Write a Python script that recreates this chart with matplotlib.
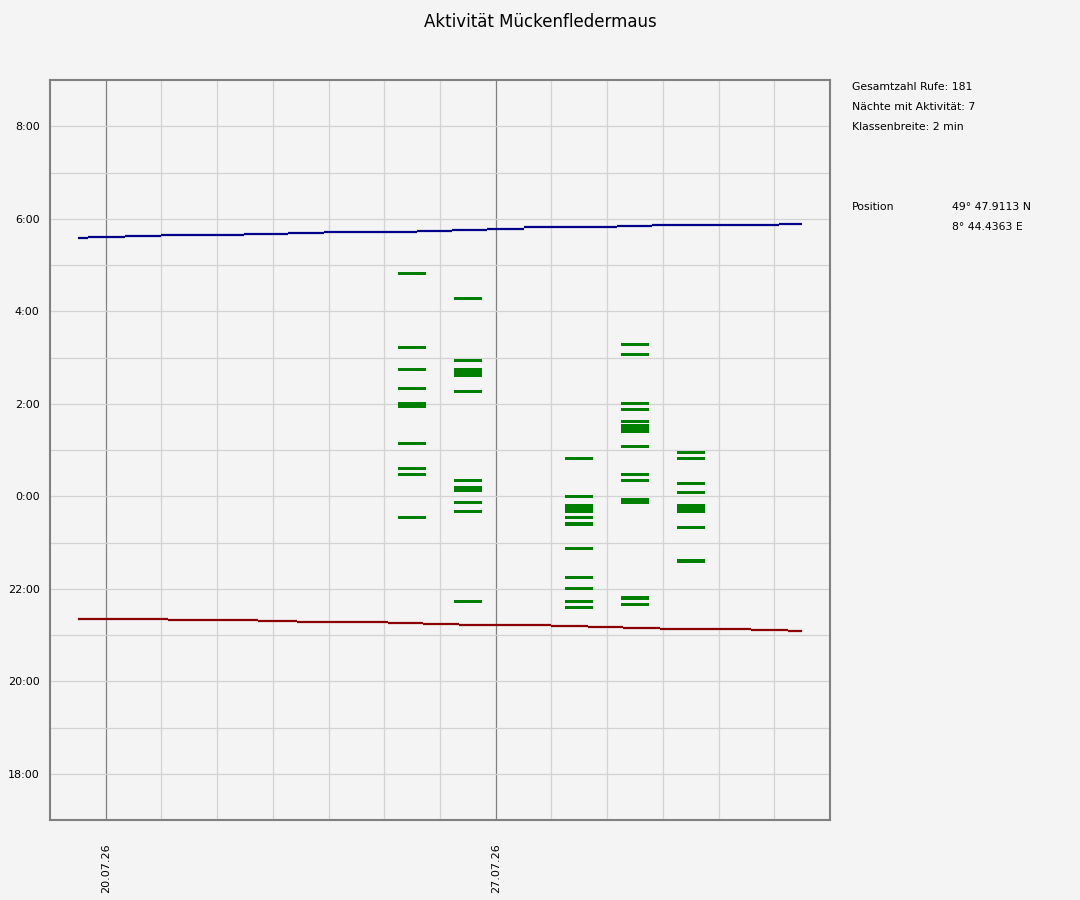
#!/usr/bin/env python3

import datetime
import numpy as np
import matplotlib
matplotlib.use("Agg")
import matplotlib.pyplot as plt


StartDate = datetime.date(2026, 7, 19)
LabelDates = ["20.07.26", "27.07.26"]

# Nights with activity: date of evening, call times (class centre), class thickness
NightDates = ["25.07.26", "26.07.26", "28.07.26", "29.07.26", "30.07.26"]
NightTimes = [
    ["04:49", "03:13", "02:44", "02:20", "01:58", "01:08", "00:36", "00:28", "23:32"],
    ["04:16", "02:56", "02:40", "02:16", "00:20", "00:10", "23:52", "23:40", "21:44"],
    ["00:49", "00:00", "23:44", "23:32", "23:24", "22:52", "22:15", "22:00", "21:44", "21:36"],
    ["03:17", "03:04", "02:00", "01:52", "01:37", "01:28", "01:04", "00:28", "00:20", "23:54",
     "21:48", "21:40"],
    ["00:57", "00:49", "00:16", "00:05", "23:44", "23:20", "22:36"],
]
NightLevels = [
    [1, 1, 1, 1, 2, 1, 1, 1, 1],
    [1, 1, 3, 1, 1, 2, 1, 1, 1],
    [1, 1, 3, 1, 1, 1, 1, 1, 1, 1],
    [1, 1, 1, 1, 1, 3, 1, 1, 1, 2, 1, 1],
    [1, 1, 1, 1, 3, 1, 1],
]

# Sunrise / sunset (minutes after midnight), step segments between day offsets
SunriseBreaks = [0.50, 0.68, 1.34, 1.99, 3.49, 4.27, 4.91, 6.58, 7.22, 7.85, 8.50,
                 10.17, 10.81, 11.46, 13.09, 13.49]
SunriseMinutes = [335, 336.6, 337.9, 339.2, 340.5, 341.8, 343.1, 344.4, 345.7, 347.1,
                  348.7, 350.0, 351.3, 352.2, 353.5]
SunsetBreaks = [0.50, 2.11, 3.74, 4.43, 6.06, 6.70, 7.35, 9.00, 9.66, 10.29, 10.94,
                12.59, 13.25, 13.49]
SunsetMinutes = [1280.5, 1279.2, 1277.9, 1276.6, 1275.3, 1274.0, 1272.7, 1271.4,
                 1270.1, 1268.8, 1267.3, 1266.0, 1264.7]

InfoLines = ["Gesamtzahl Rufe: 181", "Nächte mit Aktivität: 7", "Klassenbreite: 2 min"]


def day_offset(text):
    d = datetime.datetime.strptime(text, "%d.%m.%y").date()
    return (d - StartDate).days


def to_hours(text):
    hh, mm = text.split(":")
    h = int(hh) + int(mm) / 60.0
    if h > 12:
        h -= 24
    return h


def minutes_to_hours(m):
    h = m / 60.0
    if h > 12:
        h -= 24
    return h


def main():
    Background = "#f4f4f4"
    fig = plt.figure(figsize=(10.8, 9), dpi=100, facecolor=Background)
    ax = fig.add_axes([50 / 1080, 1 - 820 / 900, 780 / 1080, 740 / 900])
    ax.set_facecolor(Background)

    ax.set_xlim(0, 14)
    ax.set_ylim(-7, 9)

    # activity classes
    LevelHeight = 3.9 / 60.0
    for i in range(len(NightDates)):
        X = day_offset(NightDates[i]) + 0.5
        for t, lvl in zip(NightTimes[i], NightLevels[i]):
            H = lvl * LevelHeight
            ax.bar(X, H, width=0.5, bottom=to_hours(t) - H / 2, color="#008000",
                   linewidth=0, zorder=3)

    # sunrise / sunset
    Rise = [minutes_to_hours(m) for m in SunriseMinutes]
    Set = [minutes_to_hours(m) for m in SunsetMinutes]
    ax.hlines(Rise, SunriseBreaks[:-1], SunriseBreaks[1:], color="#00008b", lw=1.6, zorder=4)
    ax.hlines(Set, SunsetBreaks[:-1], SunsetBreaks[1:], color="#8b0000", lw=1.6, zorder=4)

    # y axis: hours
    YMajor = np.arange(-6, 9, 2)
    ax.set_yticks(YMajor)
    ax.set_yticklabels([f"{int(h % 24)}:00" for h in YMajor])
    ax.set_yticks(np.arange(-6, 9, 1), minor=True)

    # x axis: days
    ax.set_xticks([day_offset(t) for t in LabelDates])
    ax.set_xticklabels(LabelDates, rotation=90)
    ax.set_xticks(np.arange(1, 14, 1), minor=True)

    ax.tick_params(which="both", length=0)
    ax.tick_params(axis="y", pad=7.5, labelsize=8, labelcolor="#000000")
    ax.tick_params(axis="x", pad=17, labelsize=8, labelcolor="#000000")

    ax.set_axisbelow(True)
    ax.grid(which="both", axis="y", color="#d3d3d3", lw=0.9)
    ax.grid(which="minor", axis="x", color="#d3d3d3", lw=0.9)
    ax.grid(which="major", axis="x", color="#808080", lw=0.9)

    for s in ax.spines.values():
        s.set_color("#808080")
        s.set_linewidth(1.5)

    fig.text(0.5, 1 - 22 / 900, "Aktivität Mückenfledermaus", ha="center", va="center",
             fontsize=12)

    for i, line in enumerate(InfoLines):
        fig.text(852 / 1080, 1 - (87 + 20 * i) / 900, line, ha="left", va="center",
                 fontsize=7.8)
    fig.text(852 / 1080, 1 - 207 / 900, "Position", ha="left", va="center", fontsize=7.8)
    fig.text(952 / 1080, 1 - 207 / 900, "49° 47.9113 N", ha="left", va="center", fontsize=7.8)
    fig.text(952 / 1080, 1 - 227 / 900, "8° 44.4363 E", ha="left", va="center", fontsize=7.8)

    fig.savefig("out.png", dpi=100, facecolor=Background)


if __name__ == "__main__":
    main()
